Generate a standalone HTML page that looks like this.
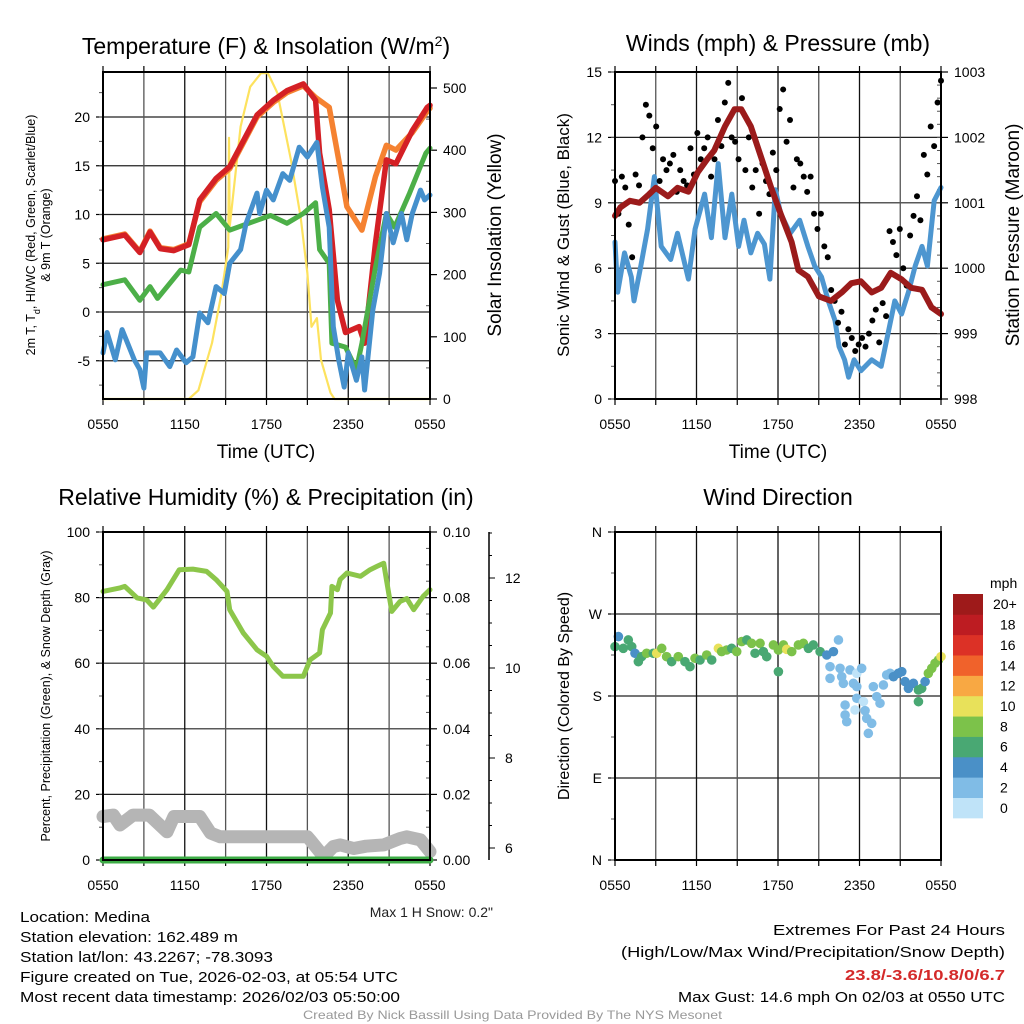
<!DOCTYPE html>
<html><head><meta charset="utf-8"><title>Mesonet Medina</title>
<style>
html,body{margin:0;padding:0;background:#fff;}
svg{display:block;font-family:"Liberation Sans",Arial,sans-serif;}
</style></head>
<body>
<svg id="fig" xmlns="http://www.w3.org/2000/svg" width="1024" height="1024" viewBox="0 0 1024 1024">
<rect width="1024" height="1024" fill="#fff"/>
<g id="g1"></g>
<g id="g2"></g>
<g id="g3"></g>
<g id="g4"></g>

<text x="266" y="54" font-size="23" text-anchor="middle">Temperature (F) &amp; Insolation (W/m<tspan baseline-shift="super" font-size="14">2</tspan>)</text>
<text x="778" y="45" font-size="23" text-anchor="middle" dominant-baseline="middle">Winds (mph) &amp; Pressure (mb)</text>
<text x="266" y="505" font-size="23" text-anchor="middle">Relative Humidity (%) &amp; Precipitation (in)</text>
<text x="778" y="505" font-size="23" text-anchor="middle">Wind Direction</text>

<text x="266" y="458" font-size="19" text-anchor="middle">Time (UTC)</text>
<text x="778" y="458" font-size="19" text-anchor="middle">Time (UTC)</text>

<text transform="translate(35,235) rotate(-90)" font-size="12.5" text-anchor="middle">2m T, T<tspan baseline-shift="sub" font-size="9">d</tspan>, HI/WC (Red, Green, Scarlet/Blue)</text>
<text transform="translate(50,235) rotate(-90)" font-size="12.5" text-anchor="middle">&amp; 9m T (Orange)</text>
<text transform="translate(501,235) rotate(-90)" font-size="19" text-anchor="middle">Solar Insolation (Yellow)</text>
<text transform="translate(569,235) rotate(-90)" font-size="17" text-anchor="middle">Sonic Wind &amp; Gust (Blue, Black)</text>
<text transform="translate(1019,235) rotate(-90)" font-size="19" text-anchor="middle">Station Pressure (Maroon)</text>
<text transform="translate(50,696) rotate(-90)" font-size="12.5" text-anchor="middle">Percent, Precipitation (Green), &amp; Snow Depth (Gray)</text>
<text transform="translate(569,696) rotate(-90)" font-size="16" text-anchor="middle">Direction (Colored By Speed)</text>

<text x="493" y="917" font-size="14" text-anchor="end" fill="#222">Max 1 H Snow: 0.2"</text>

<g font-size="15" fill="#000">
<text x="20" y="922" textLength="130" lengthAdjust="spacingAndGlyphs">Location: Medina</text>
<text x="20" y="942" textLength="218" lengthAdjust="spacingAndGlyphs">Station elevation: 162.489 m</text>
<text x="20" y="962" textLength="253" lengthAdjust="spacingAndGlyphs">Station lat/lon: 43.2267; -78.3093</text>
<text x="20" y="982" textLength="378" lengthAdjust="spacingAndGlyphs">Figure created on Tue, 2026-02-03, at 05:54 UTC</text>
<text x="20" y="1002" textLength="380" lengthAdjust="spacingAndGlyphs">Most recent data timestamp: 2026/02/03 05:50:00</text>
</g>
<g font-size="15">
<text x="773" y="935" textLength="232" lengthAdjust="spacingAndGlyphs">Extremes For Past 24 Hours</text>
<text x="621" y="957" textLength="384" lengthAdjust="spacingAndGlyphs">(High/Low/Max Wind/Precipitation/Snow Depth)</text>
<text x="845" y="980" textLength="160" lengthAdjust="spacingAndGlyphs" font-weight="bold" fill="#d42a2a">23.8/-3.6/10.8/0/6.7</text>
<text x="678" y="1002" textLength="327" lengthAdjust="spacingAndGlyphs">Max Gust: 14.6 mph On 02/03 at 0550 UTC</text>
</g>
<text x="303" y="1019" font-size="12" fill="#999" textLength="419" lengthAdjust="spacingAndGlyphs">Created By Nick Bassill Using Data Provided By The NYS Mesonet</text>
</svg>
<script>
// ---------- DATA ----------
const timeTickLabels = ["0550","1150","1750","2350","0550"];
const tempTicks = [-5,0,5,10,15,20];
const solarTicks = [0,100,200,300,400,500];
const windTicks = [0,3,6,9,12,15];
const presTicks = [998,999,1000,1001,1002,1003];
const rhTicks = [0,20,40,60,80,100];
const precipTicks = [0.00,0.02,0.04,0.06,0.08,0.10];
const snowTicks = [6,8,10,12];
const dirTicks = ["N","E","S","W","N"];
const speedBins = ["0","2","4","6","8","10","12","14","16","18","20+"];
const speedColors = ["#bfe3f8","#80bce6","#4a90c7","#49a873","#7cc24a","#e8e15a","#f8a843","#f0622b","#dc3126","#bd1c22","#9e1a1a"];

const redHours = [0,1.6,2.7,3.45,4.2,5.2,6.3,7.1,8.3,9.3,11.3,12.5,13.5,14.7,15.6,15.9,16.6,17.2,17.8,18.8,19.2,20.0,20.8,21.5,22.7,23.8,24];
const redVals  = [7.4,7.9,6.1,8.2,6.5,6.3,6.9,11.5,13.7,14.9,20.2,21.7,22.7,23.4,21.7,16.3,10.5,1.2,-2.1,-1.5,-3.2,7.1,15.6,15.2,18.6,21.0,21.2];
const orangeHours = [0,1.6,2.7,3.45,4.2,5.2,6.3,7.1,8.3,9.3,11.3,12.5,13.5,14.7,15.6,16.6,17.3,17.9,19.0,20.0,20.8,21.5,22.7,23.8,24];
const orangeVals  = [7.5,8.0,6.2,8.3,6.6,6.4,7.0,11.3,13.5,14.7,20.0,21.5,22.5,23.2,22.0,21.0,15.6,10.8,8.4,13.9,17.1,16.6,18.4,20.6,20.9];
const greenHours = [0,1.6,2.7,3.45,4.0,5.7,6.3,7.1,8.3,9.3,11.3,12.3,13.5,14.7,15.6,15.9,16.6,16.8,17.8,18.6,19.0,20.0,20.8,21.4,22.5,23.7,24];
const greenVals  = [2.8,3.3,1.2,2.6,1.4,4.3,4.1,8.7,10.1,8.4,9.4,9.9,9.1,10.1,11.2,6.4,5.0,-3.2,-3.6,-5.9,-3.2,4.6,10.1,8.7,12.2,16.3,16.8];
const blueHours = [0,0.3,0.9,1.4,2.3,2.7,3.0,3.2,4.2,4.9,5.4,6.1,6.6,7.1,7.7,8.3,8.9,9.3,10.1,10.5,11.3,11.5,12.0,12.5,13.2,13.7,14.4,15.0,15.7,16.1,16.6,16.9,17.3,17.7,18.0,18.6,19.0,19.2,19.8,20.3,20.8,21.3,21.9,22.3,22.7,23.3,23.6,24];
const blueVals  = [-4.2,-2.1,-4.9,-1.8,-4.9,-5.9,-7.8,-4.2,-4.2,-5.6,-3.9,-5.2,-4.6,-0.1,-1.1,2.6,1.9,5.0,6.4,9.1,12.2,10.1,12.5,11.5,14.2,13.5,16.9,15.9,17.4,12.8,8.7,-1.5,-4.9,-7.7,-4.2,-7.0,-4.6,-8.0,0.2,4.0,10.1,7.1,10.1,7.4,10.1,12.5,11.5,12.0];
const solarHours = [0,6.3,7.0,8.0,8.7,9.2,9.25,9.3,10.1,10.8,11.6,12.1,12.8,13.8,14.5,15.0,15.3,15.7,16.0,16.7,17.0,24];
const solarVals  = [0,0,14,90,170,244,420,277,438,502,524,524,492,384,293,202,116,130,63,10,0,0];

const windHours = [0,0.2,0.7,1.2,1.4,1.9,2.4,2.9,3.4,4.1,4.6,5.4,5.9,6.6,7.1,7.6,8.1,8.6,9.1,9.5,10.0,10.5,11.0,11.4,11.8,12.2,12.9,13.6,14.2,14.7,15.2,15.7,16.2,16.5,16.9,17.2,17.6,18.1,18.9,19.6,20.1,20.6,21.1,21.6,22.1,22.6,23.0,23.5,24];
const windVals  = [7.2,4.9,6.7,5.6,4.5,6.1,7.8,10.2,7.0,6.4,7.6,5.5,7.8,9.4,7.4,10.8,7.4,9.4,7.0,8.2,6.7,7.6,7.1,5.5,9.6,8.5,7.6,8.2,7.0,6.1,5.6,4.5,3.6,2.4,1.8,1.0,1.8,1.3,1.8,1.5,3.0,4.5,3.9,4.9,6.1,7.0,6.1,9.1,9.7];
const presHours = [0,0.4,1.1,1.8,2.5,3.0,3.9,4.6,5.4,6.1,6.8,7.3,8.1,8.8,9.3,10.0,10.8,11.5,12.2,13.0,13.5,14.2,15.0,15.9,16.7,17.4,18.1,18.9,19.6,20.3,21.1,21.8,22.6,23.3,24];
const presVals  = [1000.80,1000.93,1001.03,1001.00,1001.13,1001.23,1001.10,1001.23,1001.17,1001.47,1001.67,1001.80,1002.17,1002.43,1002.43,1002.17,1001.67,1001.23,1000.83,1000.40,999.97,999.87,999.57,999.50,999.63,999.77,999.80,999.63,999.70,999.93,999.83,999.70,999.67,999.40,999.30];
const gustVals = [10,8.5,10.2,9.7,8,6.5,10.3,9.8,
 12,13.5,13,11.5,12.5,10,11,10.5,
 10.8,11.2,9.5,10.5,10,9.8,11.5,10.3,
 12.2,11,11.5,12,10.2,11,12.8,11.6,
 13.6,14.5,12,11.8,11,13.8,10.5,12,
 9.7,10.5,8.5,10.8,10,9.4,11.3,10.5,
 13.3,14.2,11.8,12.8,9.7,11,10.8,10.2,
 9.5,10.2,8.5,7.8,8.5,7,6.5,5,
 4.5,3.5,4,2.5,3.2,2.8,2.2,2.5,
 2.8,2.4,3.0,3.6,4.1,2.6,4.4,3.8,
 7.7,7.2,6.6,7.8,6.0,5.2,7.5,8.4,
 9.3,8.2,11.2,10.3,12.5,11.6,13.6,14.6];

const rhHours = [0,1.2,1.6,2.5,3.2,3.7,4.7,5.6,6.6,7.6,8.3,9.1,9.3,10.3,11.3,12.0,12.5,13.2,13.9,14.7,15.2,15.9,16.1,16.7,16.8,17.2,17.4,17.9,18.9,19.6,20.1,20.6,20.8,21.2,21.8,22.3,22.8,23.5,24];
const rhVals  = [81.9,82.9,83.4,79.9,79.3,77.1,82.4,88.5,88.7,88.0,85.5,81.9,76.3,69.2,64.1,62.1,59.0,56.0,56.0,56.0,61.0,63.1,70.2,75.3,83.4,82.4,85.5,87.5,86.5,88.5,89.5,90.5,85.5,75.8,78.8,79.7,76.3,80.4,82.4];
const snowHours = [0,0.76,1.25,2.2,3.4,4.7,5.2,7.1,7.9,8.6,15.0,15.2,16.2,16.9,17.4,18.4,19.3,20.6,21.8,22.3,23.3,24];
const snowVals  = [6.70,6.73,6.51,6.73,6.73,6.36,6.70,6.70,6.33,6.25,6.25,6.18,5.81,6.03,6.07,5.99,6.04,6.07,6.21,6.25,6.18,5.92];
const precipHours = [0,24];
const precipVals = [0,0];

const dirHours = [0,0.25,0.61,0.98,1.23,1.47,1.72,1.96,2.33,2.82,3.07,3.44,3.80,4.17,4.66,5.15,5.52,5.89,6.26,6.75,7.12,7.61,7.85,8.22,8.59,8.96,9.33,9.70,10.06,10.31,10.68,10.92,11.17,11.66,12.03,12.03,12.40,12.64,13.01,13.50,13.87,14.24,14.60,15.10,15.59,16.08,16.45,15.83,16.57,16.69,15.83,16.81,17.30,17.55,17.80,18.16,17.80,17.80,18.29,16.94,17.67,16.94,17.06,18.41,18.53,18.90,18.65,19.02,19.27,19.51,19.76,20.00,20.25,20.50,20.86,21.11,21.35,21.60,21.97,22.34,22.58,22.34,22.83,23.07,23.32,23.56,23.81,24.0];
const dirVals  = [234.2,245.2,232.3,241.5,234.2,226.9,217.7,223.2,226.9,226.9,226.9,232.3,223.2,217.7,223.2,217.7,212.2,221.4,219.5,225.0,219.5,232.3,228.7,230.5,232.3,228.7,239.7,241.5,237.8,226.9,237.8,228.7,223.2,236.0,230.5,206.7,236.0,231.2,228.7,236.0,237.8,232.3,236.0,228.7,225.0,228.7,241.5,212.2,210.4,201.2,199.4,193.9,208.6,193.9,204.9,210.4,190.3,177.5,173.8,170.1,164.7,159.2,151.8,163.9,155.5,150.0,139.0,190.3,179.3,172.0,192.1,203.1,204.9,201.2,204.9,206.7,195.8,188.4,193.9,186.6,188.4,173.8,195.8,204.9,210.4,215.9,219.5,223.2];
const dirSpeeds = [7,5,7,7,7,5,7,7,9,7,11,9,9,7,9,7,7,9,7,9,7,11,9,9,7,9,9,7,9,7,9,7,7,9,9,7,9,11,9,9,9,7,7,7,5,5,3,3,3,3,3,3,3,3,1,3,3,3,1,3,1,3,3,3,3,3,3,3,3,3,3,3,3,5,5,5,5,5,5,7,7,7,5,9,9,9,9,11];

// ---------- HELPERS ----------
const NS = "http://www.w3.org/2000/svg";
function mk(tag, attrs, parent){ const e=document.createElementNS(NS,tag); for(const k in attrs) e.setAttribute(k,attrs[k]); parent.appendChild(e); return e; }
function lin(d0,d1,r0,r1){ return v => r0 + (v-d0)/(d1-d0)*(r1-r0); }

function frame(g, L, R, T, B, name){
  const xs = lin(0,24,L,R);
  for(let h=3; h<24; h+=3){
    const l = mk('line',{x1:xs(h),x2:xs(h),y1:T,y2:B,stroke:(h%6===0)?'#111':'#555','stroke-width':1.3},g);
    
    
  }
  for(let h=0; h<=24; h+=3){
    mk('line',{x1:xs(h),x2:xs(h),y1:B,y2:B+6,stroke:'#000','stroke-width':1.2},g);
    mk('line',{x1:xs(h),x2:xs(h),y1:T,y2:T-6,stroke:'#000','stroke-width':1.2},g);
  }
  timeTickLabels.forEach((t,i)=>{
    const tx = mk('text',{x:xs(i*6),y:B+30,'font-size':14,'text-anchor':'middle'},g);
    tx.textContent = t;
    
    
  });
  return xs;
}
function hgrid(g,L,R,y,name){
  const l = mk('line',{x1:L,x2:R,y1:y,y2:y,stroke:'#222','stroke-width':1.2},g);
  
  
}
function leftTicks(g,L,ticks,ys,fmt,name,minorStep,T,B){
  ticks.forEach(v=>{
    mk('line',{x1:L-7,x2:L,y1:ys(v),y2:ys(v),stroke:'#000','stroke-width':1.2},g);
    const t = mk('text',{x:L-13,y:ys(v)+5,'font-size':14,'text-anchor':'end'},g);
    t.textContent = fmt(v);
    
    
  });
  if(minorStep){
    for(let v=ticks[0]-minorStep; v<=ticks[ticks.length-1]+minorStep*1.01; v+=minorStep){
      const y = ys(v);
      if(y<T-0.5 || y>B+0.5) continue;
      mk('line',{x1:L-4,x2:L,y1:y,y2:y,stroke:'#555','stroke-width':1},g);
    }
  }
}
function rightTicks(g,R,ticks,ys,fmt,name,minorVals){
  ticks.forEach(v=>{
    mk('line',{x1:R,x2:R+7,y1:ys(v),y2:ys(v),stroke:'#000','stroke-width':1.2},g);
    const t = mk('text',{x:R+13,y:ys(v)+5,'font-size':14,'text-anchor':'start'},g);
    t.textContent = fmt(v);
    
    
  });
  (minorVals||[]).forEach(v=>mk('line',{x1:R-4,x2:R,y1:ys(v),y2:ys(v),stroke:'#555','stroke-width':1},g));
}
function line(g,hours,vals,xs,ys,color,w,name){
  const p = mk('polyline',{points:hours.map((h,i)=>xs(h).toFixed(1)+','+ys(vals[i]).toFixed(1)).join(' '),fill:'none',stroke:color,'stroke-width':w,'stroke-linejoin':'round','stroke-linecap':'round'},g);
  
  
  return p;
}
function box(g,L,R,T,B,name){
  const r = mk('rect',{x:L,y:T,width:R-L,height:B-T,fill:'none',stroke:'#000','stroke-width':2},g);
  
  
}

// ---------- PANEL 1 ----------
(function(){
  const g = document.getElementById('g1');
  const L=103,R=430,T=72,B=399;
  const yT = lin(0,20,312,117);
  const yS = lin(0,500,399,88);
  tempTicks.forEach(v=>hgrid(g,L,R,yT(v),'temp'));
  const xs = frame(g,L,R,T,B,'temp');
  leftTicks(g,L,tempTicks,yT,v=>String(v),'temp-y',2.5,T,B);
  rightTicks(g,R,solarTicks,yS,v=>String(v),'solar-y',[50,150,250,350,450]);
  line(g,solarHours,solarVals,xs,yS,'#fde25e',2.2,'solar-line');
  line(g,orangeHours,orangeVals,xs,yT,'#f58231',5.5,'temp-9m-line');
  line(g,redHours,redVals,xs,yT,'#d42025',5.5,'temp-2m-line');
  line(g,greenHours,greenVals,xs,yT,'#4caf48',5,'dewpoint-line');
  line(g,blueHours,blueVals,xs,yT,'#4590cc',5,'windchill-line');
  box(g,L,R,T,B,'temp');
})();

// ---------- PANEL 2 ----------
(function(){
  const g = document.getElementById('g2');
  const L=615,R=941,T=72,B=399;
  const yW = lin(0,15,399,72);
  const yP = lin(998,1003,399,72);
  windTicks.forEach(v=>hgrid(g,L,R,yW(v),'wind'));
  const xs = frame(g,L,R,T,B,'wind');
  leftTicks(g,L,windTicks,yW,v=>String(v),'wind-y',1.5,T,B);
  const minor=[]; for(let p=998.2;p<1003;p+=0.2) minor.push(p);
  rightTicks(g,R,presTicks,yP,v=>String(v),'pressure-y',minor);
  line(g,windHours,windVals,xs,yW,'#4d96d0',5,'sonic-wind-line');
  gustVals.forEach((v,i)=>{
    const c = mk('circle',{cx:xs(i*24/(gustVals.length-1)),cy:yW(v),r:3,fill:'#000'},g);
    
    
  });
  line(g,presHours,presVals,xs,yP,'#9b1b1b',6,'pressure-line');
  box(g,L,R,T,B,'wind');
})();

// ---------- PANEL 3 ----------
(function(){
  const g = document.getElementById('g3');
  const L=103,R=430,T=532,B=860;
  const yRH = lin(0,100,860,532);
  const yPr = lin(0,0.1,860,532);
  const ySn = lin(6,12,848,578);
  rhTicks.forEach(v=>hgrid(g,L,R,yRH(v),'rh'));
  const xs = frame(g,L,R,T,B,'rh');
  leftTicks(g,L,rhTicks,yRH,v=>String(v),'rh-y',10,T,B);
  const minor=[]; for(let p=0.005;p<0.1;p+=0.005) minor.push(p);
  rightTicks(g,R,precipTicks,yPr,v=>v.toFixed(2),'precip-y',minor);
  const ax = mk('line',{x1:489,x2:489,y1:532,y2:860,stroke:'#000','stroke-width':1.5},g);
  
  
  for(let s=6; s<=13; s+=0.5){ mk('line',{x1:489,x2:(s%2===0)?495:492,y1:ySn(s),y2:ySn(s),stroke:'#000','stroke-width':1},g); }
  snowTicks.forEach(s=>{
    const t = mk('text',{x:505,y:ySn(s)+5,'font-size':14},g);
    t.textContent = String(s);
    
    
  });
  line(g,rhHours,rhVals,xs,yRH,'#8cc64a',5,'rh-line');
  line(g,snowHours,snowVals,xs,ySn,'#b5b5b5',13,'snow-depth-line');
  line(g,precipHours,precipVals,xs,yPr,'#3dac46',7,'precip-line');
  box(g,L,R,T,B,'rh');
})();

// ---------- PANEL 4 ----------
(function(){
  const g = document.getElementById('g4');
  const L=615,R=941,T=532,B=860;
  const yD = lin(0,360,860,532);
  dirTicks.forEach((d,i)=>hgrid(g,L,R,yD(i*90),'dir'));
  const xs = frame(g,L,R,T,B,'dir');
  leftTicks(g,L,[0,90,180,270,360],yD,v=>dirTicks[v/90],'dir-y',45,T,B);
  dirVals.forEach((d,i)=>{
    const bin = Math.min(10,Math.floor(dirSpeeds[i]/2));
    const c = mk('circle',{cx:xs(dirHours[i]),cy:yD(d),r:4.8,fill:speedColors[bin]},g);
    
    
  });
  box(g,L,R,T,B,'dir');
  const cb = mk('g',{},g);
  
  
  const top=594, h=20.36;
  const t0 = mk('text',{x:990,y:588,'font-size':14},cb);
  t0.textContent='mph';
  
  
  speedBins.forEach((lab,i)=>{
    const j = speedBins.length-1-i;
    const r = mk('rect',{x:953,y:top+j*h,width:30,height:h+0.4,fill:speedColors[i]},cb);
    
    
    const t = mk('text',{x:(lab.length>2?993:1000),y:top+j*h+h/2+5,'font-size':14},cb);
    t.textContent = lab;
    
    
  });
})();
</script>
</body></html>
